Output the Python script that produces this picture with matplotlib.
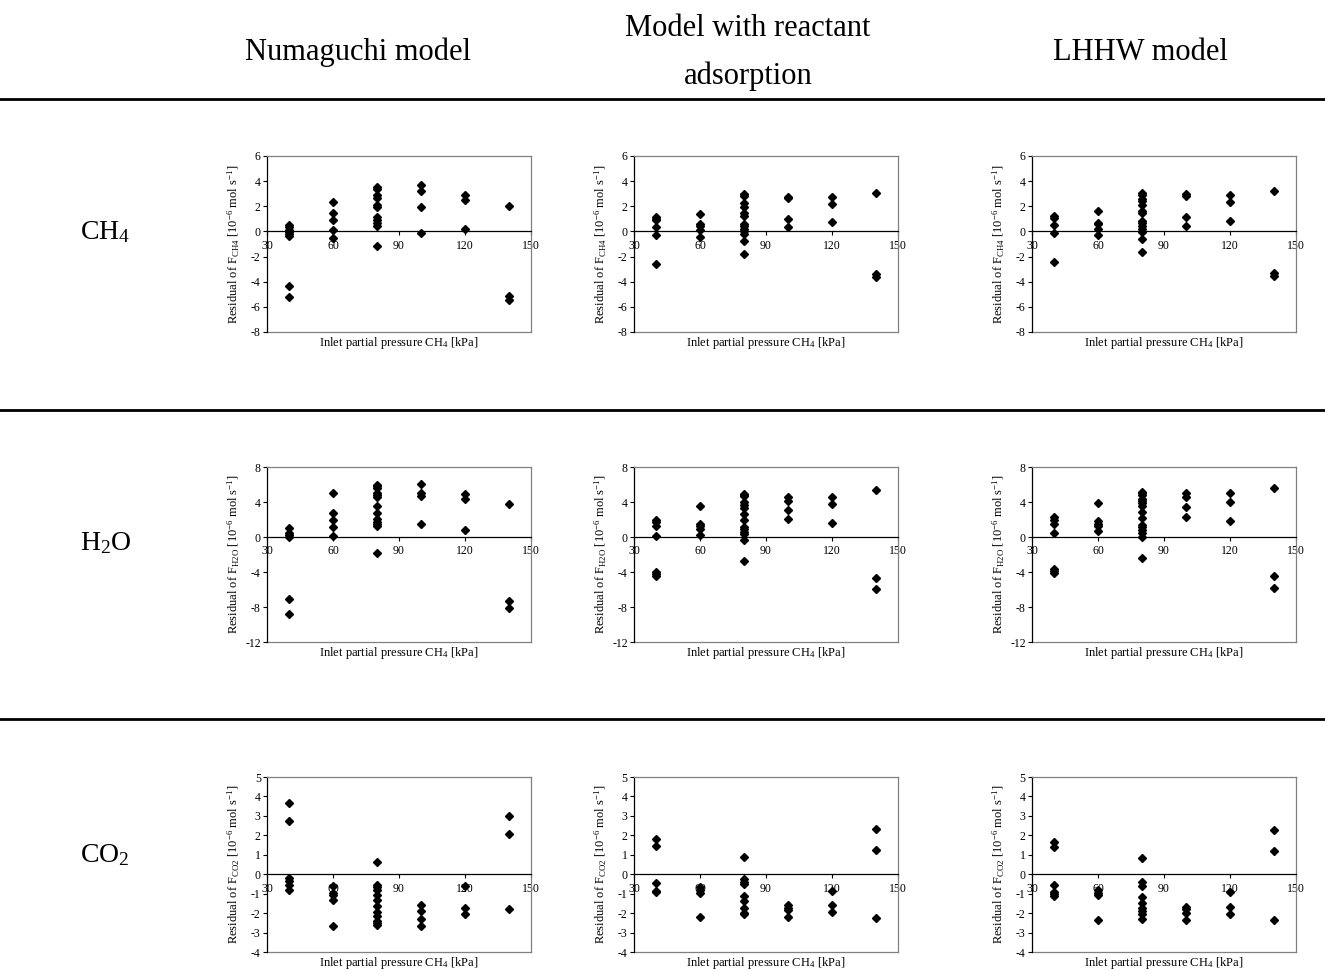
import matplotlib
matplotlib.use("Agg")
import matplotlib.pyplot as plt
from matplotlib.lines import Line2D

plt.rcParams['font.family'] = ['Liberation Serif', 'DejaVu Serif']
plt.rcParams['mathtext.fontset'] = 'custom'
plt.rcParams['mathtext.rm'] = 'Liberation Serif'
plt.rcParams['mathtext.it'] = 'Liberation Serif:italic'
plt.rcParams['mathtext.bf'] = 'Liberation Serif:bold'
plt.rcParams['axes.unicode_minus'] = False

# ---------------- data ----------------
pressures = [40, 60, 80, 100, 120, 140]
x_ticks = [30, 60, 90, 120, 150]
model_names = [["Numaguchi model"], ["Model with reactant", "adsorption"], ["LHHW model"]]
species_labels = ["CH$_4$", "H$_2$O", "CO$_2$"]
species_sub = ["CH4", "H2O", "CO2"]

# residuals grouped by inlet pressure (one inner list per pressure)
ch4_numaguchi = [
    [0.48, 0.32, 0.15, -0.05, -0.24, -0.38, -4.37, -5.18],
    [2.35, 1.43, 0.90, 0.10, -0.53],
    [3.52, 3.38, 2.91, 2.65, 2.14, 1.96, 1.16, 0.90, 0.66, 0.42, -1.19],
    [3.73, 3.23, 1.96, -0.10],
    [2.88, 2.53, 0.16],
    [2.00, -5.17, -5.45],
]
ch4_reactant = [
    [1.14, 1.00, 0.88, 0.34, -0.32, -2.62],
    [1.40, 0.56, 0.40, 0.08, -0.45],
    [2.94, 2.83, 2.28, 1.93, 1.48, 1.19, 0.61, 0.42, 0.20, 0.03, -0.19, -0.77, -1.83],
    [2.75, 2.65, 0.98, 0.32],
    [2.75, 2.20, 0.74],
    [3.09, -3.39, -3.65],
]
ch4_lhhw = [
    [1.22, 1.03, 0.50, -0.10, -2.41],
    [1.61, 0.71, 0.58, 0.16, -0.26],
    [3.07, 2.91, 2.54, 2.43, 2.11, 1.64, 1.48, 0.85, 0.71, 0.42, 0.21, -0.05, -0.58, -1.67],
    [2.94, 2.80, 1.14, 0.45],
    [2.88, 2.35, 0.83],
    [3.23, -3.29, -3.55],
]
h2o_numaguchi = [
    [1.06, 0.49, 0.22, 0.04, -7.09, -8.76],
    [4.99, 2.78, 1.98, 1.10, 0.08],
    [6.00, 5.80, 5.60, 4.99, 4.76, 4.53, 3.50, 2.78, 2.06, 1.75, 1.49, 1.30, -1.83],
    [6.05, 5.07, 4.72, 1.52],
    [4.90, 4.36, 0.77],
    [3.78, -7.37, -8.10],
]
h2o_reactant = [
    [2.00, 1.74, 1.25, 0.15, -3.98, -4.20, -4.40],
    [3.52, 1.52, 1.25, 0.95, 0.27],
    [4.96, 4.81, 4.66, 4.05, 3.71, 3.30, 2.61, 1.89, 1.17, 0.91, 0.57, 0.34, -0.34, -2.69],
    [4.55, 4.17, 3.10, 2.08],
    [4.62, 3.79, 1.55],
    [5.40, -4.67, -5.98],
]
h2o_lhhw = [
    [2.23, 1.96, 1.43, 0.42, -3.66, -3.85, -4.08],
    [3.85, 1.81, 1.47, 1.21, 0.64],
    [5.17, 4.98, 4.83, 4.34, 4.08, 3.85, 3.58, 2.83, 2.19, 1.36, 1.13, 0.75, 0.45, 0.04, -2.42],
    [4.98, 4.60, 3.47, 2.26],
    [4.98, 4.05, 1.81],
    [5.60, -4.50, -5.83],
]
co2_numaguchi = [
    [3.66, 2.76, -0.19, -0.36, -0.53, -0.82],
    [-0.63, -0.98, -1.05, -1.34, -2.67],
    [0.63, -0.56, -0.68, -0.82, -1.08, -1.34, -1.63, -1.93, -2.16, -2.38, -2.53, -2.62],
    [-1.59, -1.87, -2.31, -2.67],
    [-0.58, -1.74, -2.04],
    [3.00, 2.07, -1.80],
]
co2_reactant = [
    [1.80, 1.46, -0.45, -0.86, -0.92],
    [-0.65, -0.80, -0.96, -2.19],
    [0.89, -0.27, -0.38, -0.48, -1.13, -1.39, -1.73, -1.99, -2.07],
    [-1.59, -1.76, -1.86, -2.19],
    [-0.86, -1.59, -1.93],
    [2.35, 1.27, -2.26],
]
co2_lhhw = [
    [1.67, 1.38, -0.53, -0.90, -1.03, -1.10],
    [-0.79, -0.98, -1.06, -2.33],
    [0.84, -0.38, -0.59, -1.16, -1.47, -1.72, -1.88, -2.05, -2.29],
    [-1.66, -1.80, -1.97, -2.33],
    [-0.90, -1.70, -2.05],
    [2.30, 1.18, -2.35],
]

ch4_yticks = [-8, -6, -4, -2, 0, 2, 4, 6]
h2o_yticks = [-12, -8, -4, 0, 4, 8]
co2_yticks = [-4, -3, -2, -1, 0, 1, 2, 3, 4, 5]

grid_data = [
    [ch4_numaguchi, ch4_reactant, ch4_lhhw],
    [h2o_numaguchi, h2o_reactant, h2o_lhhw],
    [co2_numaguchi, co2_reactant, co2_lhhw],
]
row_yticks = [ch4_yticks, h2o_yticks, co2_yticks]

# ---------------- layout ----------------
W, H = 1325, 971
fig = plt.figure(figsize=(W / 100, H / 100), dpi=100)

col_left = [267, 634, 1032]
ax_w = 264
row_top = [156, 467, 777]
row_bot = [332, 642, 952]
header_x = [358, 748, 1140]
sep_y = [99, 410, 719]
row_label_y = [232, 543, 855]

for c, lines in enumerate(model_names):
    if len(lines) == 1:
        ys_px = [52]
    else:
        ys_px = [28, 76]
    for line, ypx in zip(lines, ys_px):
        fig.text(header_x[c] / W, 1 - ypx / H, line, ha='center', va='center',
                 fontsize=22)

for y in sep_y:
    fig.add_artist(Line2D([0, 1], [1 - y / H, 1 - y / H], transform=fig.transFigure,
                          color='black', lw=2.0))

grey = '#808080'
for r in range(3):
    fig.text(80 / W, 1 - row_label_y[r] / H, species_labels[r], ha='left', va='center',
             fontsize=20)
    yt = row_yticks[r]
    for c in range(3):
        ax = fig.add_axes([col_left[c] / W, 1 - row_bot[r] / H, ax_w / W,
                           (row_bot[r] - row_top[r]) / H])
        xs, ys = [], []
        for p, vals in zip(pressures, grid_data[r][c]):
            xs += [p] * len(vals)
            ys += vals
        ax.plot(xs, ys, linestyle='none', marker='D', color='black', ms=4.0,
                clip_on=False, zorder=3)
        ax.set_xlim(x_ticks[0], x_ticks[-1])
        ax.set_ylim(yt[0], yt[-1])
        ax.set_xticks(x_ticks)
        ax.set_yticks(yt)
        ax.spines['bottom'].set_position(('data', 0))
        ax.spines['bottom'].set_color('black')
        ax.spines['bottom'].set_linewidth(0.9)
        ax.spines['left'].set_color('black')
        ax.spines['left'].set_linewidth(0.9)
        for s in ('top', 'right'):
            ax.spines[s].set_color(grey)
            ax.spines[s].set_linewidth(0.9)
        ax.plot([0, 1], [0, 0], transform=ax.transAxes, color=grey, lw=0.9,
                clip_on=False)
        ax.tick_params(axis='x', direction='out', length=3, pad=3, labelsize=8.5)
        ax.tick_params(axis='y', direction='out', length=3, pad=1.5, labelsize=8.5)
        ax.set_xlabel("Inlet partial pressure CH$_4$ [kPa]", fontsize=9)
        ax.xaxis.set_label_coords(0.5, -0.015)
        ax.set_ylabel("Residual of F$_{\\mathrm{%s}}$ [10$^{-6}$ mol s$^{-1}$]" % species_sub[r],
                      fontsize=9)
        ax.yaxis.set_label_coords(-0.095, 0.5)

fig.savefig("out.png", dpi=100)
